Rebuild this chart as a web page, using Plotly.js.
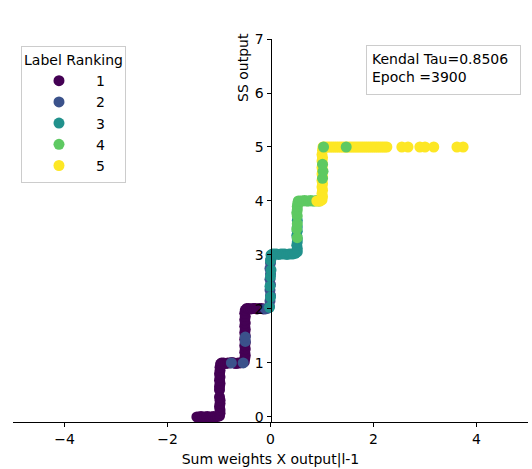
<!DOCTYPE html>
<html>
<head>
<meta charset="utf-8">
<script src="https://cdn.plot.ly/plotly-3.0.1.min.js"></script>
<style>html,body{margin:0;padding:0;background:#fff;}#chart{width:532px;height:469px;}</style>
</head>
<body>
<div id="chart"></div>
<script>
// ---- data ----
const labelNames = ['1', '2', '3', '4', '5'];
const labelColors = ['#440154', '#3b528b', '#21918c', '#5ec962', '#fde725'];

const label1X = [-1.43,-1.39,-1.35,-1.31,-1.27,-1.23,-1.19,-1.15,-1.11,-1.07,-1.03,-0.99,
  -0.98,-0.98,-0.99,-0.98,-0.98,-0.99,
  -0.99,-0.99,-0.98,-0.99,-0.98,-0.99,-0.98,-0.98,-0.97,
  -0.95,-0.91,-0.87,-0.83,-0.79,-0.75,-0.71,-0.67,-0.63,-0.59,-0.55,-0.51,
  -0.50,-0.49,-0.50,-0.49,-0.50,-0.49,-0.50,-0.49,-0.50,-0.49,-0.50,-0.49,-0.50,-0.49,-0.50,-0.49,
  -0.46,-0.42,-0.38,-0.34,-0.30,-0.26,-0.22,-0.18,-0.14];
const label1Y = [0.00,0.00,0.01,0.00,0.00,0.01,0.00,0.00,0.01,0.00,0.01,0.02,
  0.07,0.13,0.19,0.25,0.31,0.37,
  0.50,0.56,0.62,0.68,0.74,0.80,0.86,0.92,0.98,
  1.00,1.00,0.99,1.00,1.00,1.01,1.00,0.99,1.00,1.00,1.01,1.02,
  1.08,1.14,1.20,1.26,1.32,1.38,1.44,1.50,1.56,1.62,1.68,1.74,1.80,1.86,1.92,1.98,
  2.01,2.01,2.00,2.01,2.01,2.00,2.01,2.01,2.00];

const label2X = [-0.76,-0.53,-0.49,-0.49,-0.10,-0.06,-0.02,-0.01,0.00,-0.01,0.00,-0.01,0.00,-0.01,0.00,0.01];
const label2Y = [1.00,1.00,1.40,1.48,2.00,2.01,2.05,2.15,2.25,2.35,2.45,2.55,2.65,2.75,2.85,2.93];

const label3X = [-0.02,0.00,-0.01,0.00,0.01,0.00,0.01,
  0.04,0.08,0.12,0.16,0.20,0.24,0.28,0.32,0.36,0.40,0.44,0.48,
  0.52,0.52,0.51,0.52,0.52,0.51,0.52,0.52,0.52];
const label3Y = [2.03,2.22,2.42,2.60,2.72,2.90,3.00,
  3.02,3.02,3.02,3.01,3.02,3.02,3.02,3.01,3.02,3.02,3.02,3.03,
  3.06,3.12,3.18,3.24,3.30,3.36,3.44,3.52,3.64];

const label4X = [0.52,0.51,0.52,0.52,0.51,0.52,0.52,0.53,0.54,
  0.58,0.62,0.66,0.70,0.74,0.78,0.82,0.86,0.90,0.94];
const label4Y = [3.32,3.48,3.58,3.72,3.78,3.84,3.90,3.96,4.00,
  4.00,4.00,4.01,4.00,4.00,4.01,4.00,4.00,4.01,4.00];

const label5X = [0.90,0.96,1.00,
  1.01,1.00,1.01,1.00,1.01,1.00,1.01,1.00,1.01,1.00,1.01,1.00,1.01,1.00,1.01,
  1.02,1.06,1.10,1.14,1.18,1.22,1.26,1.30,1.34,1.38,1.42,1.46,1.50,1.54,1.58,1.62,
  1.66,1.70,1.74,1.78,1.82,1.86,1.90,1.94,1.98,2.02,2.06,2.10,2.14,2.18,2.22,2.26,
  2.55,2.67,2.90,3.00,3.17,3.62,3.74];
const label5Y = [4.00,4.00,4.02,
  4.08,4.14,4.20,4.26,4.32,4.38,4.44,4.50,4.56,4.62,4.68,4.74,4.80,4.86,4.94,
  5.00,5.00,5.00,5.00,5.00,5.00,5.00,5.00,5.00,5.00,5.00,5.00,5.00,5.00,5.00,5.00,
  5.00,5.00,5.00,5.00,5.00,5.00,5.00,5.00,5.00,5.00,5.00,5.00,5.00,5.00,5.00,5.00,
  5.00,5.00,5.00,5.00,5.00,5.00,5.00];

// label-4 points that were drawn over label-5 points
const label4TopX = [1.01,1.02,1.01,1.03,1.47];
const label4TopY = [4.42,4.55,4.68,5.00,5.00];

const xTickVals = [-4, -2, 0, 2, 4];
const yTickVals = [0, 1, 2, 3, 4, 5, 6, 7];
const kendalText = 'Kendal Tau=0.8506<br>Epoch =3900';

// ---- build chart ----
const FONT = 'DejaVu Sans, sans-serif';
const FS = 14;
const seriesX = [label1X, label2X, label3X, label4X, label5X];
const seriesY = [label1Y, label2Y, label3Y, label4Y, label5Y];
const MS = 11;

const traces = seriesX.map((xs, i) => ({
  type: 'scatter', mode: 'markers', name: labelNames[i], legendgroup: labelNames[i],
  x: xs, y: seriesY[i],
  marker: {color: labelColors[i], size: MS, line: {width: 0}},
  hoverinfo: 'x+y'
}));
traces.push({
  type: 'scatter', mode: 'markers', name: labelNames[3], legendgroup: labelNames[3], showlegend: false,
  x: label4TopX, y: label4TopY,
  marker: {color: labelColors[3], size: MS, line: {width: 0}}
});

const layout = {
  width: 532, height: 469,
  margin: {l: 13, r: 4, t: 39, b: 47, pad: 0},
  paper_bgcolor: '#ffffff', plot_bgcolor: '#ffffff',
  font: {family: FONT, size: FS, color: '#000000'},
  showlegend: true,
  xaxis: {
    range: [-5, 5], tickvals: xTickVals, showgrid: false, zeroline: false,
    showline: true, linecolor: '#000000', linewidth: 1,
    ticks: 'outside', ticklen: 4, tickwidth: 1, tickcolor: '#000000',
    tickfont: {family: FONT, size: FS},
    title: {text: 'Sum weights X output|l-1', font: {family: FONT, size: FS}, standoff: 8}
  },
  yaxis: {
    range: [-0.093, 7], tickvals: yTickVals, showgrid: false, zeroline: false,
    anchor: 'free', position: 0.5,
    showline: true, linecolor: '#000000', linewidth: 1,
    ticks: 'outside', ticklen: 4, tickwidth: 1, tickcolor: '#000000',
    tickfont: {family: FONT, size: FS}
  },
  legend: {
    x: 0.0155, y: 0.982, xanchor: 'left', yanchor: 'top',
    bgcolor: 'rgba(255,255,255,0.8)', bordercolor: '#cccccc', borderwidth: 1,
    font: {family: FONT, size: FS},
    itemwidth: 64,
    title: {text: 'Label Ranking', side: 'top center', font: {family: FONT, size: FS}},
    tracegroupgap: 0, itemclick: false
  },
  annotations: [
    {
      xref: 'paper', yref: 'paper', x: 0.4466, y: 0.927, xanchor: 'center', yanchor: 'middle',
      text: 'SS output', textangle: -90, showarrow: false,
      font: {family: FONT, size: FS}
    },
    {
      xref: 'paper', yref: 'paper', x: 0.6854, y: 0.984, xanchor: 'left', yanchor: 'top',
      text: kendalText, showarrow: false, align: 'left', valign: 'top',
      width: 143, height: 38, borderpad: 5,
      bgcolor: 'rgba(255,255,255,0.8)', bordercolor: '#cccccc', borderwidth: 1,
      font: {family: FONT, size: FS}
    }
  ]
};

Plotly.newPlot('chart', traces, layout, {displayModeBar: false, staticPlot: true});
</script>
</body>
</html>
